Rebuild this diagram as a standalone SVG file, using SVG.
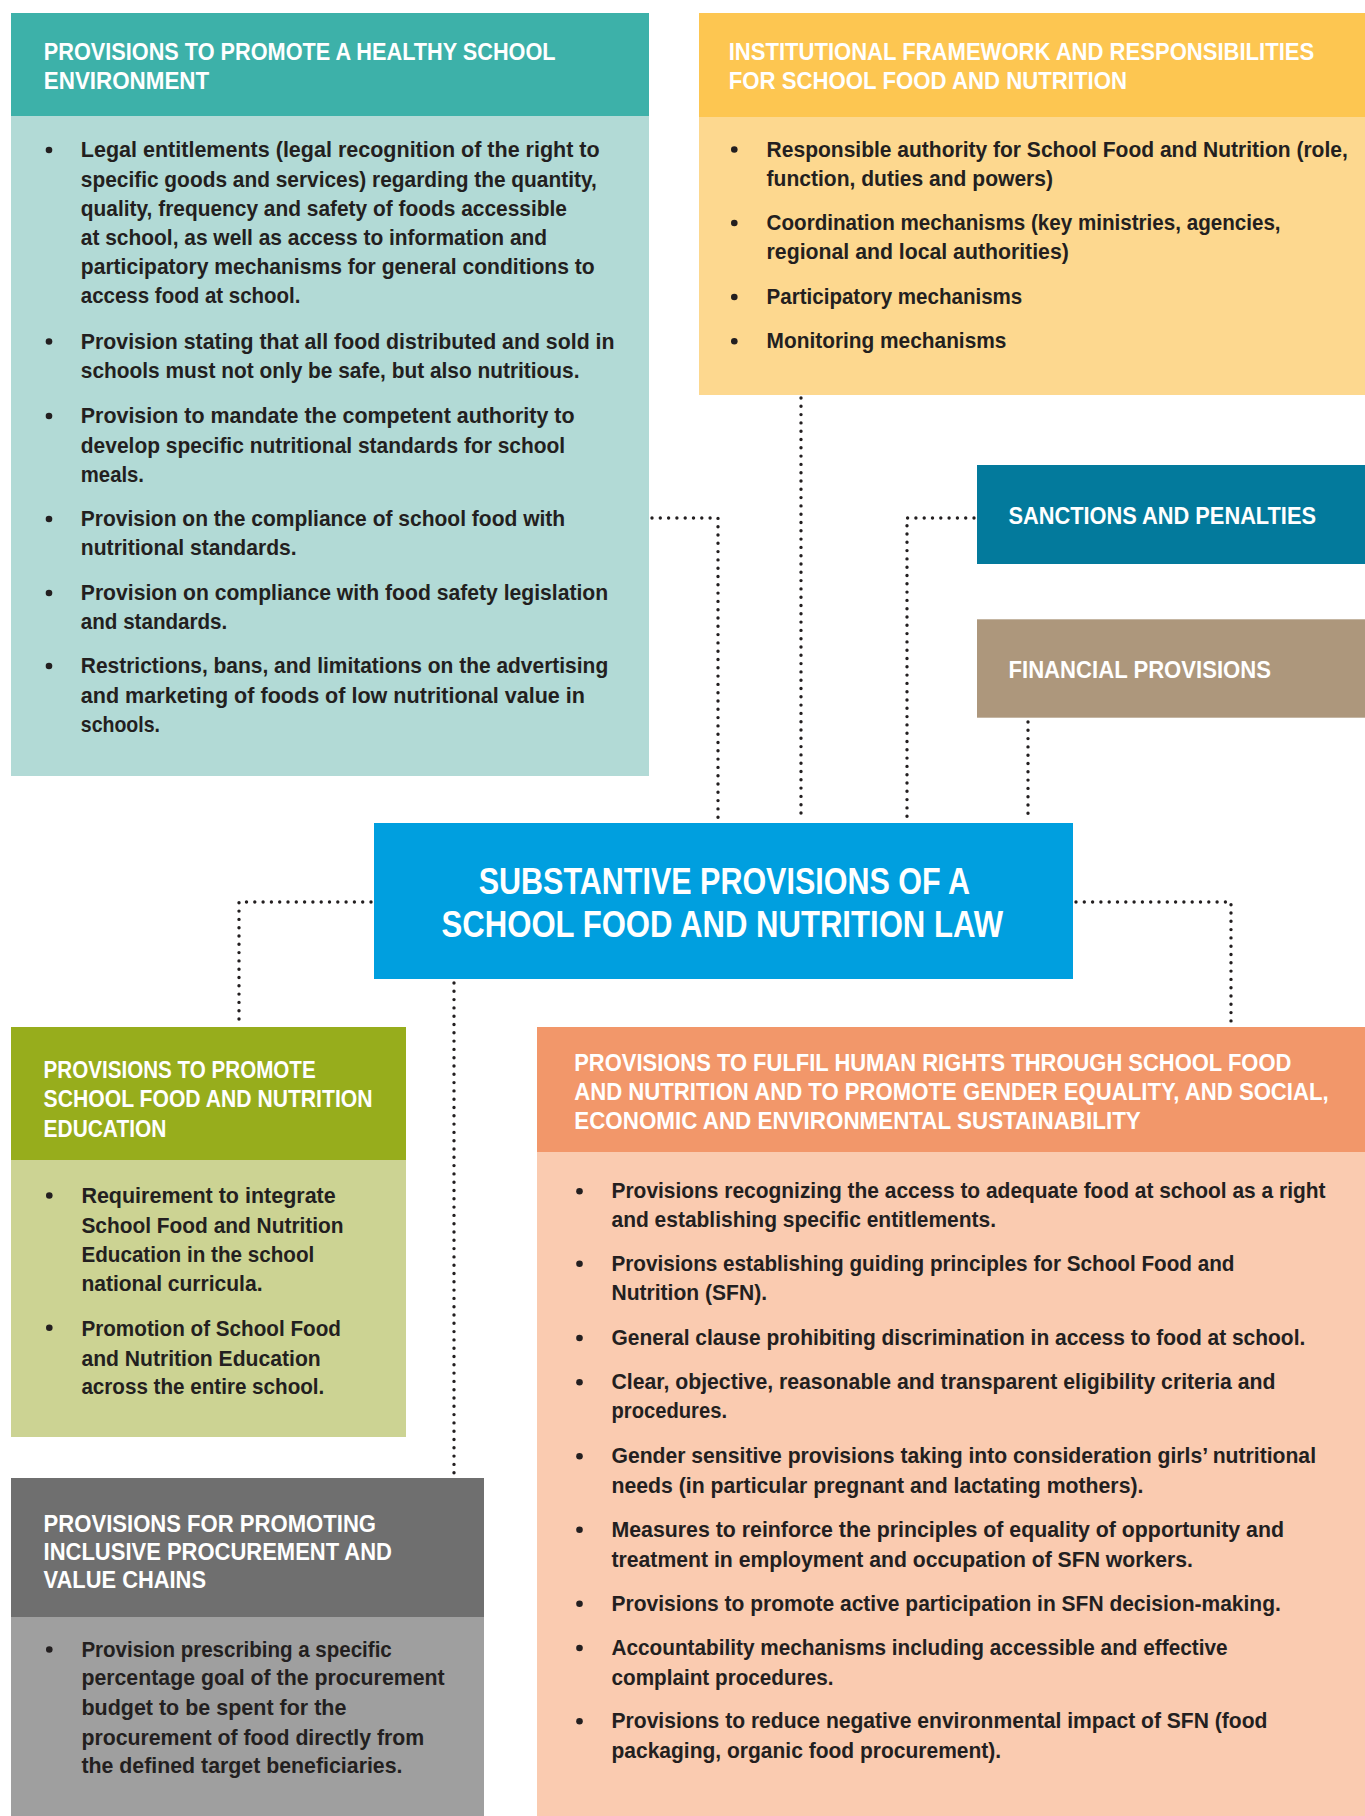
<svg xmlns="http://www.w3.org/2000/svg" width="1365" height="1816" viewBox="0 0 1365 1816">
<style>
text{font-family:"Liberation Sans",Arial,sans-serif;font-weight:bold}
.t{fill:#ffffff;font-size:24px}
.b{fill:#231F20;font-size:22px}
.c{fill:#ffffff;font-size:36px}
.dot{fill:#231F20}
.conn{fill:none;stroke:#231F20;stroke-width:3.4;stroke-linecap:round;stroke-dasharray:0 8.3}
</style>
<rect width="1365" height="1816" fill="#ffffff"/>
<g id="connectors">
<path class="conn" d="M652 518 H718 V818"/>
<path class="conn" d="M801 398 V818"/>
<path class="conn" d="M974 518 H907 V818"/>
<path class="conn" d="M1028 722 V818"/>
<path class="conn" d="M371 902 H239 V1023"/>
<path class="conn" d="M454 983 V1475"/>
<path class="conn" d="M1076 902 H1231 V1023"/>
</g>
<g id="healthy-school">
<rect x="11" y="13" width="638" height="103" fill="#3DB1A9"/>
<rect x="11" y="116" width="638" height="660" fill="#B2DAD6"/>
<text class="t" x="43.8" y="60" textLength="511.8" lengthAdjust="spacingAndGlyphs">PROVISIONS TO PROMOTE A HEALTHY SCHOOL</text>
<text class="t" x="43.8" y="89" textLength="165.4" lengthAdjust="spacingAndGlyphs">ENVIRONMENT</text>
<circle class="dot" cx="49" cy="150" r="3.3"/>
<circle class="dot" cx="49" cy="341.5" r="3.3"/>
<circle class="dot" cx="49" cy="416" r="3.3"/>
<circle class="dot" cx="49" cy="519" r="3.3"/>
<circle class="dot" cx="49" cy="593" r="3.3"/>
<circle class="dot" cx="49" cy="666" r="3.3"/>
<text class="b" x="80.8" y="157.3" textLength="518.9" lengthAdjust="spacingAndGlyphs">Legal entitlements (legal recognition of the right to</text>
<text class="b" x="80.8" y="186.5" textLength="516" lengthAdjust="spacingAndGlyphs">specific goods and services) regarding the quantity,</text>
<text class="b" x="80.8" y="215.7" textLength="486.1" lengthAdjust="spacingAndGlyphs">quality, frequency and safety of foods accessible</text>
<text class="b" x="80.8" y="244.9" textLength="466.3" lengthAdjust="spacingAndGlyphs">at school, as well as access to information and</text>
<text class="b" x="80.8" y="274.1" textLength="513.9" lengthAdjust="spacingAndGlyphs">participatory mechanisms for general conditions to</text>
<text class="b" x="80.8" y="303.3" textLength="219.7" lengthAdjust="spacingAndGlyphs">access food at school.</text>
<text class="b" x="80.8" y="348.7" textLength="533.7" lengthAdjust="spacingAndGlyphs">Provision stating that all food distributed and sold in</text>
<text class="b" x="80.8" y="377.9" textLength="498.7" lengthAdjust="spacingAndGlyphs">schools must not only be safe, but also nutritious.</text>
<text class="b" x="80.8" y="423.3" textLength="493.7" lengthAdjust="spacingAndGlyphs">Provision to mandate the competent authority to</text>
<text class="b" x="80.8" y="452.5" textLength="484.4" lengthAdjust="spacingAndGlyphs">develop specific nutritional standards for school</text>
<text class="b" x="80.8" y="481.7" textLength="63.2" lengthAdjust="spacingAndGlyphs">meals.</text>
<text class="b" x="80.8" y="526" textLength="484.4" lengthAdjust="spacingAndGlyphs">Provision on the compliance of school food with</text>
<text class="b" x="80.8" y="555.2" textLength="215.9" lengthAdjust="spacingAndGlyphs">nutritional standards.</text>
<text class="b" x="80.8" y="600" textLength="527.4" lengthAdjust="spacingAndGlyphs">Provision on compliance with food safety legislation</text>
<text class="b" x="80.8" y="629.2" textLength="146.5" lengthAdjust="spacingAndGlyphs">and standards.</text>
<text class="b" x="80.8" y="673.3" textLength="527.4" lengthAdjust="spacingAndGlyphs">Restrictions, bans, and limitations on the advertising</text>
<text class="b" x="80.8" y="702.5" textLength="504.2" lengthAdjust="spacingAndGlyphs">and marketing of foods of low nutritional value in</text>
<text class="b" x="80.8" y="731.7" textLength="79.2" lengthAdjust="spacingAndGlyphs">schools.</text>
</g>
<g id="institutional">
<rect x="699" y="13" width="666" height="104" fill="#FDC651"/>
<rect x="699" y="117" width="666" height="278" fill="#FDD88F"/>
<text class="t" x="728.7" y="60" textLength="585.5" lengthAdjust="spacingAndGlyphs">INSTITUTIONAL FRAMEWORK AND RESPONSIBILITIES</text>
<text class="t" x="728.7" y="89.3" textLength="398.3" lengthAdjust="spacingAndGlyphs">FOR SCHOOL FOOD AND NUTRITION</text>
<circle class="dot" cx="734.3" cy="149.5" r="3.3"/>
<circle class="dot" cx="734.3" cy="223" r="3.3"/>
<circle class="dot" cx="734.3" cy="297" r="3.3"/>
<circle class="dot" cx="734.3" cy="341.3" r="3.3"/>
<text class="b" x="766.6" y="156.7" textLength="581.2" lengthAdjust="spacingAndGlyphs">Responsible authority for School Food and Nutrition (role,</text>
<text class="b" x="766.6" y="185.7" textLength="286.4" lengthAdjust="spacingAndGlyphs">function, duties and powers)</text>
<text class="b" x="766.6" y="230" textLength="514" lengthAdjust="spacingAndGlyphs">Coordination mechanisms (key ministries, agencies,</text>
<text class="b" x="766.6" y="259" textLength="302.2" lengthAdjust="spacingAndGlyphs">regional and local authorities)</text>
<text class="b" x="766.6" y="304" textLength="255.7" lengthAdjust="spacingAndGlyphs">Participatory mechanisms</text>
<text class="b" x="766.6" y="348.3" textLength="239.8" lengthAdjust="spacingAndGlyphs">Monitoring mechanisms</text>
</g>
<g id="sanctions">
<rect x="977" y="465" width="388" height="99" fill="#037A9C"/>
<text class="t" x="1008.5" y="524.3" textLength="307.5" lengthAdjust="spacingAndGlyphs">SANCTIONS AND PENALTIES</text>
</g>
<g id="financial">
<rect x="977" y="619.3" width="388" height="98.4" fill="#AD977C"/>
<text class="t" x="1008.5" y="678.3" textLength="262.5" lengthAdjust="spacingAndGlyphs">FINANCIAL PROVISIONS</text>
</g>
<g id="center">
<rect x="374" y="823" width="699" height="156" fill="#009FDF"/>
<text class="c" x="478.7" y="894" textLength="491.3" lengthAdjust="spacingAndGlyphs">SUBSTANTIVE PROVISIONS OF A</text>
<text class="c" x="441.6" y="937.3" textLength="561.4" lengthAdjust="spacingAndGlyphs">SCHOOL FOOD AND NUTRITION LAW</text>
</g>
<g id="education">
<rect x="11" y="1027" width="395" height="133" fill="#97AD1C"/>
<rect x="11" y="1160" width="395" height="277" fill="#CCD393"/>
<text class="t" x="43.6" y="1077.5" textLength="272.1" lengthAdjust="spacingAndGlyphs">PROVISIONS TO PROMOTE</text>
<text class="t" x="43.6" y="1107" textLength="328.9" lengthAdjust="spacingAndGlyphs">SCHOOL FOOD AND NUTRITION</text>
<text class="t" x="43.6" y="1137" textLength="122.8" lengthAdjust="spacingAndGlyphs">EDUCATION</text>
<circle class="dot" cx="49.3" cy="1195.5" r="3.3"/>
<circle class="dot" cx="49.3" cy="1327.8" r="3.3"/>
<text class="b" x="81.4" y="1203.3" textLength="254.3" lengthAdjust="spacingAndGlyphs">Requirement to integrate</text>
<text class="b" x="81.4" y="1232.8" textLength="262.2" lengthAdjust="spacingAndGlyphs">School Food and Nutrition</text>
<text class="b" x="81.4" y="1262.3" textLength="232.9" lengthAdjust="spacingAndGlyphs">Education in the school</text>
<text class="b" x="81.4" y="1291.3" textLength="181.1" lengthAdjust="spacingAndGlyphs">national curricula.</text>
<text class="b" x="81.4" y="1335.6" textLength="259.6" lengthAdjust="spacingAndGlyphs">Promotion of School Food</text>
<text class="b" x="81.4" y="1365.5" textLength="239.3" lengthAdjust="spacingAndGlyphs">and Nutrition Education</text>
<text class="b" x="81.4" y="1394" textLength="242.9" lengthAdjust="spacingAndGlyphs">across the entire school.</text>
</g>
<g id="procurement">
<rect x="11" y="1478" width="473" height="139" fill="#6F6F6F"/>
<rect x="11" y="1617" width="473" height="199" fill="#9F9F9F"/>
<text class="t" x="43.6" y="1531.7" textLength="332.4" lengthAdjust="spacingAndGlyphs">PROVISIONS FOR PROMOTING</text>
<text class="t" x="43.6" y="1560" textLength="348.4" lengthAdjust="spacingAndGlyphs">INCLUSIVE PROCUREMENT AND</text>
<text class="t" x="43.6" y="1588.3" textLength="162.4" lengthAdjust="spacingAndGlyphs">VALUE CHAINS</text>
<circle class="dot" cx="49.3" cy="1649.5" r="3.3"/>
<text class="b" x="81.4" y="1656.7" textLength="310.4" lengthAdjust="spacingAndGlyphs">Provision prescribing a specific</text>
<text class="b" x="81.4" y="1685" textLength="363.2" lengthAdjust="spacingAndGlyphs">percentage goal of the procurement</text>
<text class="b" x="81.4" y="1715" textLength="265" lengthAdjust="spacingAndGlyphs">budget to be spent for the</text>
<text class="b" x="81.4" y="1745" textLength="342.9" lengthAdjust="spacingAndGlyphs">procurement of food directly from</text>
<text class="b" x="81.4" y="1773.3" textLength="321.1" lengthAdjust="spacingAndGlyphs">the defined target beneficiaries.</text>
</g>
<g id="human-rights">
<rect x="537" y="1027" width="828" height="125" fill="#F2976A"/>
<rect x="537" y="1152" width="828" height="664" fill="#FACBB0"/>
<text class="t" x="574.2" y="1071" textLength="717.2" lengthAdjust="spacingAndGlyphs">PROVISIONS TO FULFIL HUMAN RIGHTS THROUGH SCHOOL FOOD</text>
<text class="t" x="574.2" y="1100" textLength="754.5" lengthAdjust="spacingAndGlyphs">AND NUTRITION AND TO PROMOTE GENDER EQUALITY, AND SOCIAL,</text>
<text class="t" x="574.2" y="1128.7" textLength="566.6" lengthAdjust="spacingAndGlyphs">ECONOMIC AND ENVIRONMENTAL SUSTAINABILITY</text>
<circle class="dot" cx="579.5" cy="1191.3" r="3.3"/>
<circle class="dot" cx="579.5" cy="1263.7" r="3.3"/>
<circle class="dot" cx="579.5" cy="1338" r="3.3"/>
<circle class="dot" cx="579.5" cy="1382.3" r="3.3"/>
<circle class="dot" cx="579.5" cy="1456.3" r="3.3"/>
<circle class="dot" cx="579.5" cy="1529.7" r="3.3"/>
<circle class="dot" cx="579.5" cy="1603.7" r="3.3"/>
<circle class="dot" cx="579.5" cy="1648" r="3.3"/>
<circle class="dot" cx="579.5" cy="1721.3" r="3.3"/>
<text class="b" x="611.5" y="1198.3" textLength="714" lengthAdjust="spacingAndGlyphs">Provisions recognizing the access to adequate food at school as a right</text>
<text class="b" x="611.5" y="1226.7" textLength="384.5" lengthAdjust="spacingAndGlyphs">and establishing specific entitlements.</text>
<text class="b" x="611.5" y="1270.7" textLength="623" lengthAdjust="spacingAndGlyphs">Provisions establishing guiding principles for School Food and</text>
<text class="b" x="611.5" y="1300" textLength="155.5" lengthAdjust="spacingAndGlyphs">Nutrition (SFN).</text>
<text class="b" x="611.5" y="1345" textLength="693.8" lengthAdjust="spacingAndGlyphs">General clause prohibiting discrimination in access to food at school.</text>
<text class="b" x="611.5" y="1389.3" textLength="664" lengthAdjust="spacingAndGlyphs">Clear, objective, reasonable and transparent eligibility criteria and</text>
<text class="b" x="611.5" y="1418.3" textLength="115.5" lengthAdjust="spacingAndGlyphs">procedures.</text>
<text class="b" x="611.5" y="1463.3" textLength="704.5" lengthAdjust="spacingAndGlyphs">Gender sensitive provisions taking into consideration girls’ nutritional</text>
<text class="b" x="611.5" y="1492.7" textLength="531.9" lengthAdjust="spacingAndGlyphs">needs (in particular pregnant and lactating mothers).</text>
<text class="b" x="611.5" y="1536.7" textLength="672.5" lengthAdjust="spacingAndGlyphs">Measures to reinforce the principles of equality of opportunity and</text>
<text class="b" x="611.5" y="1566.7" textLength="581.5" lengthAdjust="spacingAndGlyphs">treatment in employment and occupation of SFN workers.</text>
<text class="b" x="611.5" y="1610.7" textLength="669.3" lengthAdjust="spacingAndGlyphs">Provisions to promote active participation in SFN decision-making.</text>
<text class="b" x="611.5" y="1655" textLength="616" lengthAdjust="spacingAndGlyphs">Accountability mechanisms including accessible and effective</text>
<text class="b" x="611.5" y="1685" textLength="222" lengthAdjust="spacingAndGlyphs">complaint procedures.</text>
<text class="b" x="611.5" y="1728.3" textLength="656" lengthAdjust="spacingAndGlyphs">Provisions to reduce negative environmental impact of SFN (food</text>
<text class="b" x="611.5" y="1758.3" textLength="389.7" lengthAdjust="spacingAndGlyphs">packaging, organic food procurement).</text>
</g>
</svg>
